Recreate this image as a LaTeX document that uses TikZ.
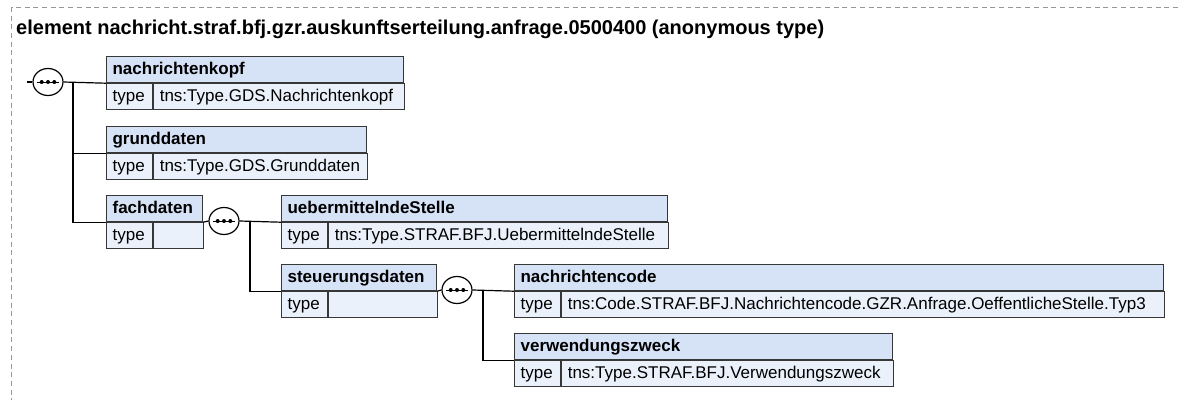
\documentclass[tikz,border=0pt]{standalone}
\usepackage{fontspec}
\usetikzlibrary{shapes.geometric}
\setmainfont{Liberation Sans}
\definecolor{hdrfill}{RGB}{214,226,246}
\definecolor{typfill}{RGB}{235,241,251}
\definecolor{boxline}{RGB}{55,55,55}
\definecolor{framegray}{RGB}{150,150,150}
\tikzset{
  cell/.style={draw=boxline, line width=1.2pt, anchor=north west, minimum height=26pt,
    inner xsep=6pt, inner ysep=0pt, text height=12.5pt, text depth=3.5pt, align=left},
  hdr/.style={cell, fill=hdrfill, font=\fontsize{17}{20}\selectfont\bfseries},
  typ/.style={cell, fill=typfill, font=\fontsize{17}{20}\selectfont, text width=34pt},
  val/.style={cell, fill=typfill, font=\fontsize{17}{20}\selectfont},
  seq/.style={ellipse, draw=black, fill=white, line width=1.2pt, minimum width=30pt, minimum height=27pt, inner sep=0pt},
  conn/.style={draw=black, line width=1.2pt},
  frame/.style={draw=framegray, line width=1pt, dash pattern=on 5pt off 3.7pt}
}
\newcommand{\seqdots}[1]{%
  \draw[line width=0.9pt] ([xshift=-11pt]#1.center) -- ([xshift=11pt]#1.center);
  \fill ([xshift=-6.3pt]#1.center) circle (2pt);
  \fill (#1.center) circle (2pt);
  \fill ([xshift=6.3pt]#1.center) circle (2pt);
}
\begin{document}
\begin{tikzpicture}[x=1pt,y=-1pt]
\useasboundingbox (0,0) rectangle (1178,400);
\draw[frame] (1178,7.5) -- (11.5,7.5) -- (11.5,400);
\node[anchor=base west, inner sep=0pt, font=\fontsize{20}{24}\selectfont\bfseries] (title) at (16,34)
  {element nachricht.straf.bfj.gzr.auskunftserteilung.anfrage.0500400 (anonymous type)};

% nachrichtenkopf
\node[hdr, text width=285pt] (nk) at (106,56) {nachrichtenkopf};
\node[typ] (nk-t) at (nk.south west) {type};
\node[val, text width=239pt] (nk-v) at (nk-t.north east) {tns:Type.GDS.Nachrichtenkopf};
% grunddaten
\node[hdr, text width=248pt] (gd) at (106,126) {grunddaten};
\node[typ] (gd-t) at (gd.south west) {type};
\node[val, text width=202pt] (gd-v) at (gd-t.north east) {tns:Type.GDS.Grunddaten};
% fachdaten
\node[hdr, text width=84pt] (fd) at (106,195) {fachdaten};
\node[typ] (fd-t) at (fd.south west) {type};
\node[val, text width=38pt] (fd-v) at (fd-t.north east) {};
% uebermittelndeStelle
\node[hdr, text width=374pt] (ub) at (281,195) {uebermittelndeStelle};
\node[typ] (ub-t) at (ub.south west) {type};
\node[val, text width=328pt] (ub-v) at (ub-t.north east) {tns:Type.STRAF.BFJ.UebermittelndeStelle};
% steuerungsdaten
\node[hdr, text width=143pt] (st) at (281,264) {steuerungsdaten};
\node[typ] (st-t) at (st.south west) {type};
\node[val, text width=97pt] (st-v) at (st-t.north east) {};
% nachrichtencode
\node[hdr, text width=637pt] (nc) at (514,264) {nachrichtencode};
\node[typ] (nc-t) at (nc.south west) {type};
\node[val, text width=591pt] (nc-v) at (nc-t.north east) {tns:Code.STRAF.BFJ.Nachrichtencode.GZR.Anfrage.OeffentlicheStelle.Typ3};
% verwendungszweck
\node[hdr, text width=366pt] (vz) at (514,333) {verwendungszweck};
\node[typ] (vz-t) at (vz.south west) {type};
\node[val, text width=320pt] (vz-v) at (vz-t.north east) {tns:Type.STRAF.BFJ.Verwendungszweck};

% sequence compositors
\node[seq] (c1) at (48,82) {};
\node[seq] (c2) at (224,221) {};
\node[seq] (c3) at (457,290) {};
\seqdots{c1}
\seqdots{c2}
\seqdots{c3}

% connectors
\coordinate (in) at (27,82);
\coordinate (j1) at (73,82);
\coordinate (j2) at (250,221);
\coordinate (j3) at (483,290);
\draw[conn] (in) -- (c1.west);
\draw[conn] (c1.east) -- (nk.south west);
\draw[conn] (j1) |- (gd.south west);
\draw[conn] (j1) |- (fd.south west);
\draw[conn] (fd.south east) -- (c2.west);
\draw[conn] (c2.east) -- (ub.south west);
\draw[conn] (j2) |- (st.south west);
\draw[conn] (st.south east) -- (c3.west);
\draw[conn] (c3.east) -- (nc.south west);
\draw[conn] (j3) |- (vz.south west);
\end{tikzpicture}
\end{document}
